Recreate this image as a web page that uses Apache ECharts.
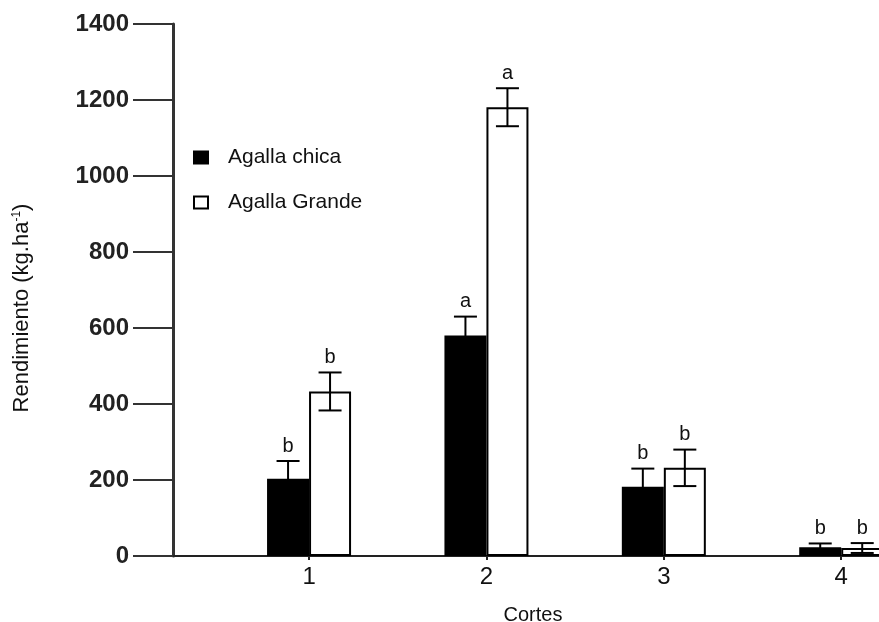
<!DOCTYPE html>
<html>
<head>
<meta charset="utf-8">
<script src="https://cdn.jsdelivr.net/npm/echarts@6/dist/echarts.min.js"></script>
<style>
html,body{margin:0;padding:0;background:#fff;}
#c{width:879px;height:622px;}
</style>
</head>
<body>
<div id="c"></div>
<script>
// Data
var cortes = [1, 2, 3, 4];
var seriesNames = ['Agalla chica', 'Agalla Grande'];
var chica = [203, 580, 182, 23];
var grande = [433, 1181, 232, 21];
var chicaErr = [47, 50, 48, 10];
var grandeErr = [50, 50, 48, 13];
var chicaLetters = ['b', 'a', 'b', 'b'];
var grandeLetters = ['b', 'a', 'b', 'b'];
var yTicks = [0, 200, 400, 600, 800, 1000, 1200, 1400];

var FONT = 'Liberation Sans, Arial, sans-serif';
var BARW = 42;

function pairs(vals) {
  return cortes.map(function (c, i) { return [c, vals[i]]; });
}
function errData(vals, errs, letters, side) {
  return cortes.map(function (c, i) { return [c, vals[i], errs[i], letters[i], side]; });
}

function renderErr(params, api) {
  var x = api.value(0), y = api.value(1), e = api.value(2);
  var letter = api.value(3);
  var side = api.value(4);
  var top = api.coord([x, y + e]);
  var bot = api.coord([x, y - e]);
  var cx = top[0] + side * BARW / 2;
  var cap = 11.5;
  var st = { stroke: '#000', lineWidth: 2 };
  return {
    type: 'group',
    children: [
      { type: 'line', shape: { x1: cx, y1: top[1], x2: cx, y2: bot[1] }, style: st },
      { type: 'line', shape: { x1: cx - cap, y1: top[1], x2: cx + cap, y2: top[1] }, style: st },
      { type: 'line', shape: { x1: cx - cap, y1: bot[1], x2: cx + cap, y2: bot[1] }, style: st },
      { type: 'text', style: { text: letter, x: cx, y: top[1] - 5, align: 'center', verticalAlign: 'bottom',
        fill: '#111', font: '20px ' + FONT } }
    ]
  };
}

var chart = echarts.init(document.getElementById('c'));
chart.setOption({
  animation: false,
  backgroundColor: '#fff',
  grid: { left: 173, right: 0, top: 24, bottom: 66, containLabel: false, outerBoundsMode: 'none' },
  legend: {
    orient: 'vertical',
    left: 193,
    top: 147,
    padding: 0,
    itemWidth: 14,
    itemHeight: 12,
    itemGap: 24,
    icon: 'rect',
    data: seriesNames,
    textStyle: { fontFamily: FONT, fontSize: 21, color: '#111', padding: [0, 0, 0, 15] }
  },
  xAxis: {
    type: 'value',
    min: 0.233,
    max: 4.213,
    name: 'Cortes',
    nameLocation: 'middle',
    nameGap: 49,
    nameTextStyle: { fontFamily: FONT, fontSize: 20, color: '#111', padding: [0, 0, 0, 14] },
    axisLine: { show: true, lineStyle: { color: '#222', width: 2 } },
    axisTick: { show: true, length: 4, customValues: cortes, lineStyle: { color: '#222', width: 2 } },
    axisLabel: { customValues: cortes, fontFamily: FONT, fontSize: 24, color: '#111', margin: 9,
      formatter: function (v) { return String(Math.round(v)); } },
    splitLine: { show: false }
  },
  yAxis: {
    type: 'value',
    min: 0,
    max: 1400,
    interval: 200,
    name: '{n|Rendimiento (kg.ha}{s|-1}{n|)}',
    nameLocation: 'middle',
    nameRotate: 90,
    nameGap: 140,
    nameTextStyle: {
      padding: [0, 36, 0, 0],
      rich: {
        n: { fontFamily: FONT, fontSize: 22, color: '#111' },
        s: { fontFamily: FONT, fontSize: 12, color: '#111', verticalAlign: 'top', padding: [0, 0, 10, 0] }
      }
    },
    axisLine: { show: true, lineStyle: { color: '#333', width: 3 } },
    axisTick: { show: true, inside: false, length: 40, lineStyle: { color: '#333', width: 2 } },
    axisLabel: { fontFamily: FONT, fontSize: 24, fontWeight: 'bold', color: '#222', margin: 44,
      customValues: yTicks, formatter: function (v) { return String(v); } },
    splitLine: { show: false }
  },
  series: [
    {
      name: seriesNames[0], type: 'bar', data: pairs(chica), barWidth: BARW, barGap: '0%',
      itemStyle: { color: '#000', borderColor: '#000', borderWidth: 2 }, z: 2
    },
    {
      name: seriesNames[1], type: 'bar', data: pairs(grande), barWidth: BARW, barGap: '0%',
      itemStyle: { color: '#fff', borderColor: '#000', borderWidth: 2 }, z: 2
    },
    {
      type: 'custom', renderItem: renderErr, data: errData(chica, chicaErr, chicaLetters, -1),
      encode: { x: 0, y: 1 }, z: 5, silent: true
    },
    {
      type: 'custom', renderItem: renderErr, data: errData(grande, grandeErr, grandeLetters, 1),
      encode: { x: 0, y: 1 }, z: 5, silent: true
    }
  ]
});
</script>
</body>
</html>
